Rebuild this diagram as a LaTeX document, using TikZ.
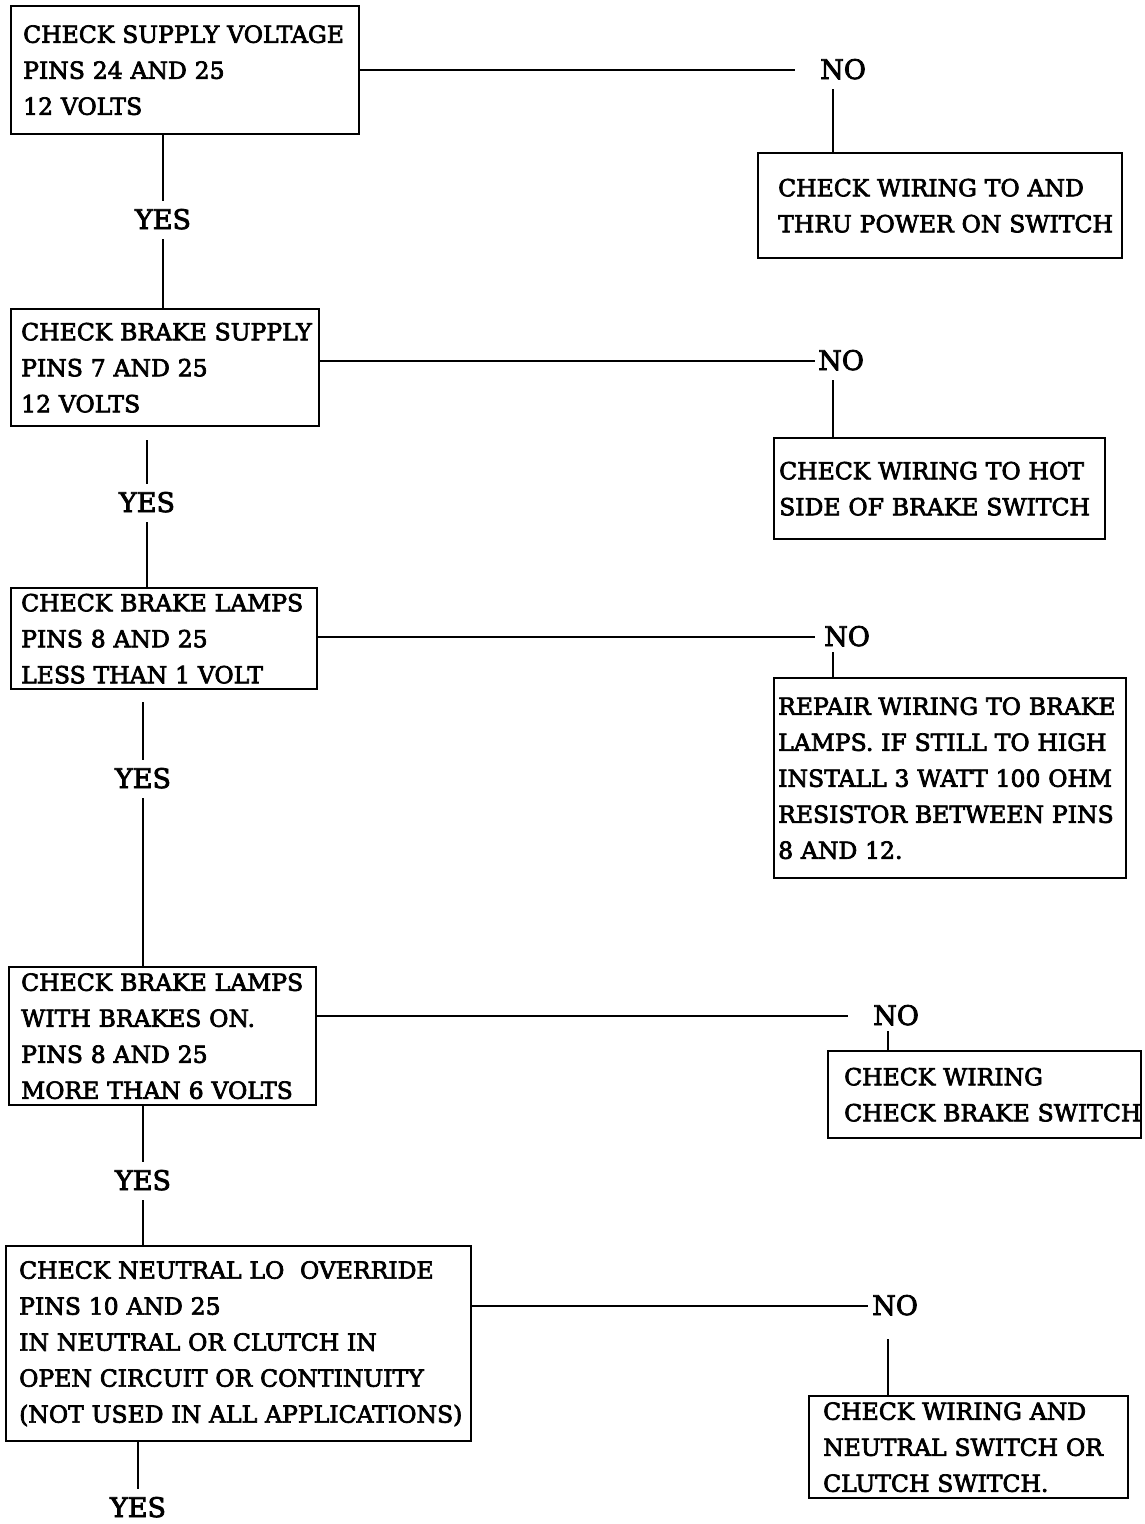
\documentclass[tikz,border=0pt]{standalone}
\usepackage{fontspec}
\setmainfont{DejaVu Serif}[BoldFont={DejaVu Serif}, BoldFeatures={FakeBold=3}]
\begin{document}
\begin{tikzpicture}[x=1pt, y=-1pt,
  box/.style={draw, line width=2.4pt, anchor=north west, align=left, inner xsep=0pt, inner ysep=0pt,
    font=\fontsize{23.5}{36}\bfseries, execute at begin node={\leftskip=#1\rightskip=-40pt plus 1fil}},
  box/.default=10pt,
  answer/.style={inner xsep=0pt, inner ysep=9pt, text height=19pt, text depth=1pt, font=\fontsize{27}{30}\bfseries},
  link/.style={line width=2.8pt}]
  \useasboundingbox (0,0) rectangle (1144,1524);
  % left column: the checks
  \node[box=12pt, text width=348pt, minimum height=128pt] (supply) at (10,5) {CHECK SUPPLY VOLTAGE\\PINS 24 AND 25\\12 VOLTS};
  \node[box=10pt, text width=308pt, minimum height=117pt] (brake) at (10,308) {CHECK BRAKE SUPPLY\\PINS 7 AND 25\\12 VOLTS};
  \node[box=10pt, text width=306pt, minimum height=101pt] (lamps) at (10,587) {CHECK BRAKE LAMPS\\PINS 8 AND 25\\LESS THAN 1 VOLT};
  \node[box=12pt, text width=307pt, minimum height=138pt] (brakeon) at (8,966) {CHECK BRAKE LAMPS\\WITH BRAKES ON.\\PINS 8 AND 25\\MORE THAN 6 VOLTS};
  \node[box=13pt, text width=465pt, minimum height=195pt] (neutral) at (5,1245) {CHECK NEUTRAL LO\ \ OVERRIDE\\PINS 10 AND 25\\IN NEUTRAL OR CLUTCH IN\\OPEN CIRCUIT OR CONTINUITY\\(NOT USED IN ALL APPLICATIONS)};
  % right column: the repairs
  \node[box=20pt, text width=364pt, minimum height=105pt] (power) at (757,152) {CHECK WIRING TO AND\\THRU POWER ON SWITCH};
  \node[box=5pt, text width=331pt, minimum height=101pt] (hot) at (773,437) {CHECK WIRING TO HOT\\SIDE OF BRAKE SWITCH};
  \node[box=4pt, text width=352pt, minimum height=200pt] (repair) at (773,677) {REPAIR WIRING TO BRAKE\\LAMPS. IF STILL TO HIGH\\INSTALL 3 WATT 100 OHM\\RESISTOR BETWEEN PINS\\8 AND 12.};
  \node[box=16pt, text width=313pt, minimum height=87pt] (switch) at (827,1050) {CHECK WIRING\\CHECK BRAKE SWITCH};
  \node[box=14pt, text width=319pt, minimum height=102pt] (clutch) at (808,1395) {CHECK WIRING AND\\NEUTRAL SWITCH OR\\CLUTCH SWITCH.};
  % answers
  \node[answer] (yes1) at (163,220) {YES};
  \node[answer] (yes2) at (147,503) {YES};
  \node[answer] (yes3) at (143,779) {YES};
  \node[answer] (yes4) at (143,1181) {YES};
  \node[answer] (yes5) at (138,1508) {YES};
  \node[answer, anchor=west] (no1) at (820,70) {NO};
  \node[answer, anchor=west] (no2) at (818,361) {NO};
  \node[answer, anchor=west] (no3) at (824,637) {NO};
  \node[answer, anchor=west] (no4) at (873,1016) {NO};
  \node[answer, anchor=west] (no5) at (872,1306) {NO};
  % YES branches
  \draw[link] (supply.south -| yes1) -- (yes1.north);
  \draw[link] (yes1.south) -- (brake.north -| yes1);
  \draw[link, shorten <=13pt] (brake.south -| yes2) -- (yes2.north);
  \draw[link] (yes2.south) -- (lamps.north -| yes2);
  \draw[link, shorten <=12pt] (lamps.south -| yes3) -- (yes3.north);
  \draw[link] (yes3.south) -- (brakeon.north -| yes3);
  \draw[link] (brakeon.south -| yes4) -- (yes4.north);
  \draw[link] (yes4.south) -- (neutral.north -| yes4);
  \draw[link] (neutral.south -| yes5) -- (yes5.north);
  % NO branches
  \draw[link, shorten >=25pt] (supply.east |- no1.west) -- (no1.west);
  \draw[link, shorten >=3pt] (brake.east |- no2.west) -- (no2.west);
  \draw[link, shorten >=9pt] (lamps.east |- no3.west) -- (no3.west);
  \draw[link, shorten >=25pt] (brakeon.east |- no4.west) -- (no4.west);
  \draw[link, shorten >=4pt] (neutral.east |- no5.west) -- (no5.west);
  \draw[link] ([xshift=13pt]no1.south west) -- ([xshift=13pt]no1.south west |- power.north);
  \draw[link] ([xshift=15pt]no2.south west) -- ([xshift=15pt]no2.south west |- hot.north);
  \draw[link, shorten <=-4pt] ([xshift=9pt]no3.south west) -- ([xshift=9pt]no3.south west |- repair.north);
  \draw[link, shorten <=-4pt] ([xshift=15pt]no4.south west) -- ([xshift=15pt]no4.south west |- switch.north);
  \draw[link, shorten <=14pt] ([xshift=16pt]no5.south west) -- ([xshift=16pt]no5.south west |- clutch.north);
\end{tikzpicture}
\end{document}
